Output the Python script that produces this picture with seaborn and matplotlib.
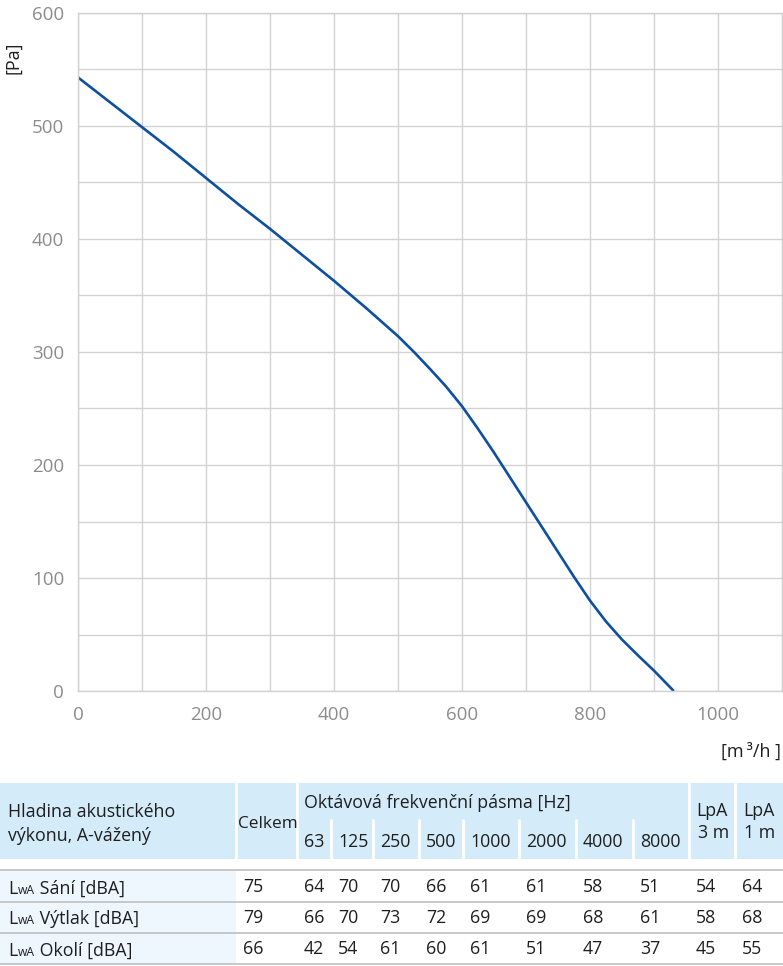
import matplotlib
matplotlib.use("Agg")
import matplotlib.pyplot as plt
import seaborn as sns
import pandas as pd
from matplotlib.patches import Rectangle
from matplotlib.ticker import MultipleLocator

# ---------------- data ----------------
flow = [0, 50, 100, 150, 200, 250, 300, 350, 400, 450, 500, 525, 550, 575, 600, 625, 650, 675,
        700, 725, 750, 775, 800, 825, 850, 875, 900, 930]
pressure = [543, 521, 499, 477, 454, 431, 409, 386, 363, 339, 314, 300, 285, 269.5, 252, 232, 211, 189,
            167, 145, 123, 101, 80, 61.5, 45.5, 31.5, 18, 0.5]

row_labels = ["Sání [dBA]", "Výtlak [dBA]", "Okolí [dBA]"]
band_labels = ["63", "125", "250", "500", "1000", "2000", "4000", "8000"]
total_vals = [75, 79, 66]
band_vals = [
    [64, 70, 70, 66, 61, 61, 58, 51],
    [66, 70, 73, 72, 69, 69, 68, 61],
    [42, 54, 61, 60, 61, 51, 47, 37],
]
lpa3_vals = [54, 58, 45]
lpa1_vals = [64, 68, 55]

# ---------------- style ----------------
sns.set_style("white")
FONT = ["Open Sans", "DejaVu Sans"]
plt.rcParams["font.family"] = FONT

W, H = 783, 966
fig = plt.figure(figsize=(W / 100, H / 100), dpi=100)

GRID = "#d2d2d2"
TICKC = "#8c8c8c"
TXT = "#1e1e1e"
LINEC = "#0d4fa0"

# ---------------- chart ----------------
ax = fig.add_axes([78 / W, (H - 691) / H, 704 / W, 678 / H])
df = pd.DataFrame({"flow": flow, "pressure": pressure})
sns.lineplot(data=df, x="flow", y="pressure", ax=ax, color=LINEC, linewidth=1.9)
ax.lines[0].set_solid_joinstyle("round")
ax.set_xlim(0, 1100)
ax.set_ylim(0, 600)
ax.xaxis.set_major_locator(MultipleLocator(200))
ax.xaxis.set_minor_locator(MultipleLocator(100))
ax.yaxis.set_major_locator(MultipleLocator(100))
ax.yaxis.set_minor_locator(MultipleLocator(50))
ax.set_xticks(range(0, 1001, 200))
ax.grid(True, which="both", color=GRID, linewidth=1.0)
ax.set_axisbelow(True)
for s in ax.spines.values():
    s.set_color(GRID)
    s.set_linewidth(1.0)
ax.tick_params(axis="both", which="major", colors=GRID, labelcolor=TICKC,
               labelsize=13.5, length=6, width=1.0)
ax.tick_params(axis="both", which="minor", length=0)
ax.tick_params(axis="y", pad=4)
ax.tick_params(axis="x", pad=5)
ax.set_xlabel("")
ax.set_ylabel("")
fig.text(13 / W, 1 - 58 / H, "[Pa]", rotation=90, ha="center", va="center",
         fontsize=13, color=TXT)
fig.text(781 / W, 1 - 752 / H, "[m\u2009³/h ]", ha="right", va="center",
         fontsize=13, color=TXT, family=FONT)

# ---------------- table ----------------
tx = fig.add_axes([0, 0, 1, 1], zorder=-1)
tx.set_xlim(0, W)
tx.set_ylim(H, 0)
tx.axis("off")

HEAD_BG = "#d4ecfa"
FIRST_BG = "#eef7fe"
cols = [0, 236, 297, 331, 373, 419, 463, 519, 576, 633, 689, 735, 783]
head_top, head_bot, sub_top = 783, 859, 820
row_lines = [870, 902, 933, 964]
row_centers = [887, 918, 949]

tx.add_patch(Rectangle((0, head_top), W, head_bot - head_top, color=HEAD_BG, lw=0))
tx.add_patch(Rectangle((0, row_lines[0]), cols[1], row_lines[-1] - row_lines[0],
                       color=FIRST_BG, lw=0))
for xc in [236, 297, 689, 735]:
    tx.plot([xc, xc], [head_top, head_bot], color="white", lw=2)
for xc in cols[3:10]:
    tx.plot([xc, xc], [sub_top, head_bot], color="white", lw=2)
for yl in row_lines:
    tx.plot([0, W], [yl, yl], color="#c4c4c4", lw=1.3)

fs = 12.8
tx.text(8, 812, "Hladina akustického", fontsize=fs, color=TXT, va="center")
tx.text(8, 836, "výkonu, A-vážený", fontsize=fs, color=TXT, va="center")
tx.text(238, 824, "Celkem", fontsize=fs * 0.97, color=TXT, va="center")
tx.text(304, 803, "Oktávová frekvenční pásma [Hz]", fontsize=fs, color=TXT, va="center")
for i, lab in enumerate(band_labels):
    tx.text(cols[2 + i] + 7, 842, lab, fontsize=fs, color=TXT, va="center")
tx.text(696, 811, "LpA", fontsize=fs, color=TXT, va="center")
tx.text(698, 833, "3 m", fontsize=fs, color=TXT, va="center")
tx.text(743, 811, "LpA", fontsize=fs, color=TXT, va="center")
tx.text(744, 833, "1 m", fontsize=fs, color=TXT, va="center")

fig.canvas.draw()
rend = fig.canvas.get_renderer()
inv = tx.transData.inverted()
for r, lab in enumerate(row_labels):
    yc = row_centers[r]
    base = yc + 6.5
    t1 = tx.text(8, base, "L", fontsize=fs, color=TXT, va="baseline")
    fig.canvas.draw()
    x1 = inv.transform(t1.get_window_extent(rend).get_points())[1][0]
    t2 = tx.text(x1 + 0.5, base, "wA", fontsize=fs * 0.68, color=TXT, va="baseline")
    fig.canvas.draw()
    x2 = inv.transform(t2.get_window_extent(rend).get_points())[1][0]
    tx.text(x2, base, " " + lab, fontsize=fs, color=TXT, va="baseline")
    vals = [total_vals[r]] + band_vals[r] + [lpa3_vals[r], lpa1_vals[r]]
    for c, v in enumerate(vals):
        tx.text(cols[1 + c] + 7, yc, str(v), fontsize=fs, color=TXT, va="center")

fig.savefig("out.png", dpi=100)
